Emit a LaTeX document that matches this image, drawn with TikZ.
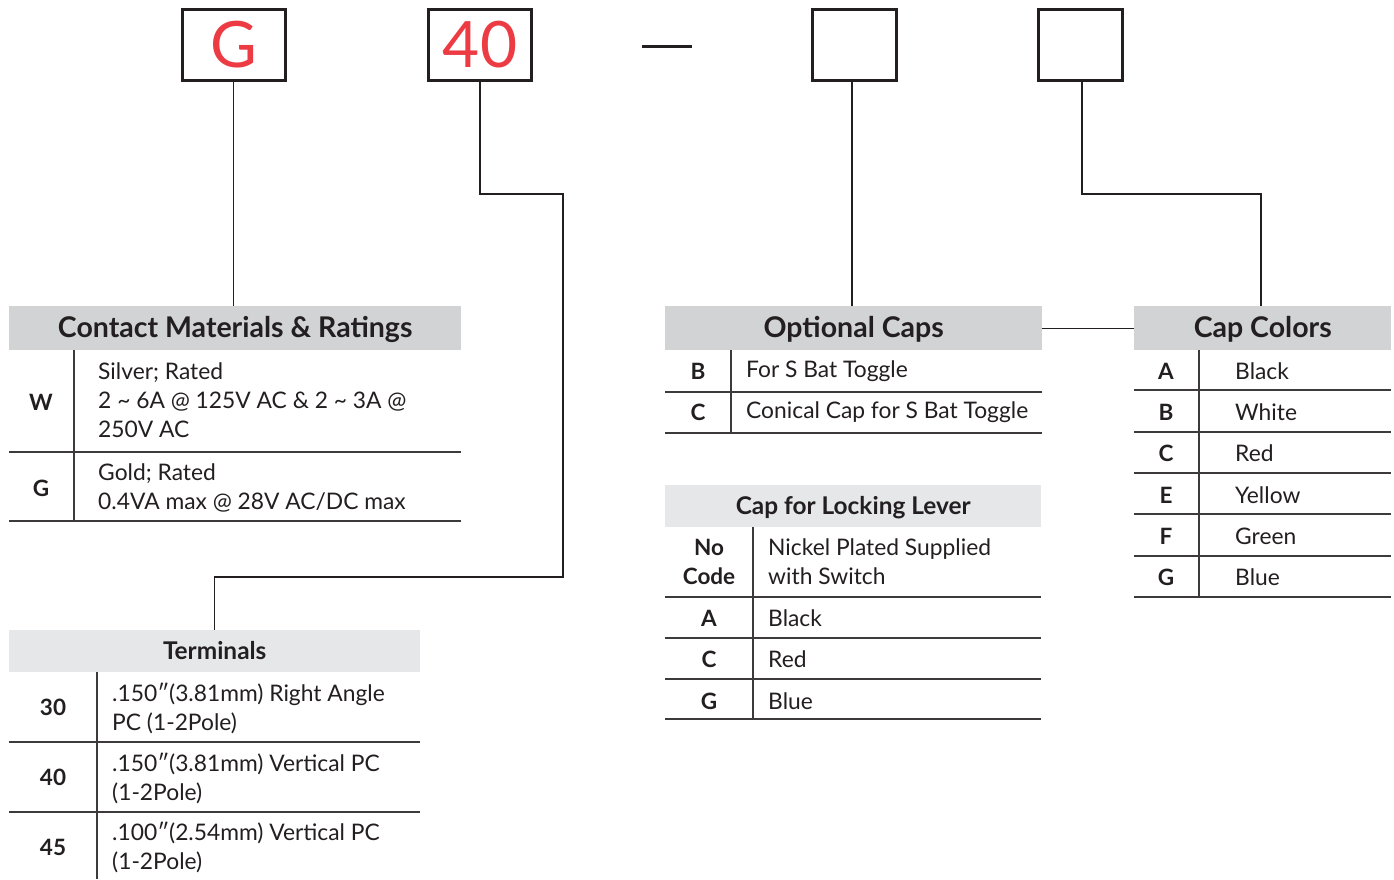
\documentclass[tikz,border=0pt]{standalone}
\usepackage{fontspec}
\setmainfont{Lato}
\definecolor{ink}{HTML}{231F20}
\definecolor{hdrA}{HTML}{D1D3D4}
\definecolor{hdrB}{HTML}{E6E7E8}
\definecolor{codered}{HTML}{EC3B43}
\definecolor{rulec}{HTML}{3C3A3B}
\begin{document}
\begin{tikzpicture}[x=1pt,y=-1pt,
  codebox/.style={draw=ink,line width=3pt,minimum width=103,minimum height=71,inner sep=0,
     text=codered,font=\fontsize{64}{64}\selectfont},
  hdrdark/.style={fill=hdrA,inner sep=0,anchor=north west,text=ink,text height=19pt,text depth=0pt,
     font=\fontsize{28.5}{30}\bfseries\selectfont},
  hdrlight/.style={fill=hdrB,inner sep=0,anchor=north west,text=ink,text height=17pt,text depth=0pt,
     font=\fontsize{24.4}{26}\bfseries\selectfont},
  code/.style={inner sep=0,text=ink,align=center,font=\fontsize{22.5}{29}\bfseries\selectfont},
  desc/.style={inner sep=0,anchor=west,text=ink,align=left,font=\fontsize{22.8}{29}\selectfont},
  rule/.style={draw=rulec,line width=1.4pt},
  conn/.style={draw=ink,line width=1.2pt}]
\useasboundingbox (0,0) rectangle (1394,879);
\fill[white] (0,0) rectangle (1394,879);

% top code boxes
\node[codebox] (bG) at (233.5,44.5) {G};
\node[codebox] (b40) at (480,44.5) {40};
\node[codebox,minimum width=84] (b3) at (854,44.5) {};
\node[codebox,minimum width=84] (b4) at (1080,44.5) {};
\draw[draw=ink,line width=3pt] (642,46) -- (692,46);

% Contact Materials & Ratings
\node[hdrdark,minimum width=452,minimum height=44] (hCM) at (9,306) {Contact Materials \& Ratings};
\draw[rule] (74,350) -- (74,521);
\draw[rule] (9,452) -- (461,452);
\draw[rule] (9,521) -- (461,521);
\node[code] (cW) at (41,402) {W};
\node[desc] (dW) at (98,400) {Silver; Rated\\2 \char`~\ 6A @ 125V AC \& 2 \char`~\ 3A @\\250V AC};
\node[code] (cG) at (41,488) {G};
\node[desc] (dG) at (98,488) {Gold; Rated\\0.4VA max @ 28V AC/DC max};

% Terminals
\node[hdrlight,minimum width=411,minimum height=42] (hT) at (9,630) {Terminals};
\draw[rule] (97,672) -- (97,879);
\draw[rule] (9,742) -- (420,742);
\draw[rule] (9,812) -- (420,812);
\node[code] (c30) at (53,707) {30};
\node[desc] (d30) at (112,708) {.150″(3.81mm) Right Angle\\PC (1-2Pole)};
\node[code] (c40) at (53,777) {40};
\node[desc] (d40) at (112,778) {.150″(3.81mm) Vertical PC\\(1-2Pole)};
\node[code] (c45) at (53,847) {45};
\node[desc] (d45) at (112,847) {.100″(2.54mm) Vertical PC\\(1-2Pole)};

% Optional Caps
\node[hdrdark,minimum width=377,minimum height=44] (hOC) at (665,306) {Optional Caps};
\draw[rule] (731,350) -- (731,433);
\draw[rule] (665,392) -- (1042,392);
\draw[rule] (665,433) -- (1042,433);
\node[code] (cOB) at (698,371) {B};
\node[desc] (dOB) at (746,371) {For S Bat Toggle};
\node[code] (cOC) at (698,412) {C};
\node[desc] (dOC) at (746,412) {Conical Cap for S Bat Toggle};

% Cap for Locking Lever
\node[hdrlight,minimum width=376,minimum height=42] (hCL) at (665,485) {Cap for Locking Lever};
\draw[rule] (753,527) -- (753,719);
\draw[rule] (665,597) -- (1041,597);
\draw[rule] (665,638) -- (1041,638);
\draw[rule] (665,679) -- (1041,679);
\draw[rule] (665,719) -- (1041,719);
\node[code] (cLN) at (709,562) {No\\Code};
\node[desc] (dLN) at (768,562) {Nickel Plated Supplied\\with Switch};
\node[code] (cLA) at (709,618) {A};
\node[desc] (dLA) at (768,618) {Black};
\node[code] (cLC) at (709,659) {C};
\node[desc] (dLC) at (768,659) {Red};
\node[code] (cLG) at (709,701) {G};
\node[desc] (dLG) at (768,701) {Blue};

% Cap Colors
\node[hdrdark,minimum width=257,minimum height=44] (hCC) at (1134,306) {Cap Colors};
\draw[rule] (1199,350) -- (1199,597);
\foreach \yy in {390,432,473,514,556,597} \draw[rule] (1134,\yy) -- (1391,\yy);
\node[code] (cCA) at (1166,371) {A};
\node[desc] (dCA) at (1235,371) {Black};
\node[code] (cCB) at (1166,412) {B};
\node[desc] (dCB) at (1235,412) {White};
\node[code] (cCC) at (1166,453) {C};
\node[desc] (dCC) at (1235,453) {Red};
\node[code] (cCE) at (1166,495) {E};
\node[desc] (dCE) at (1235,495) {Yellow};
\node[code] (cCF) at (1166,536) {F};
\node[desc] (dCF) at (1235,536) {Green};
\node[code] (cCG) at (1166,577) {G};
\node[desc] (dCG) at (1235,577) {Blue};

% connectors
\coordinate (k1) at (563,194);
\coordinate (k2) at (563,577);
\coordinate (k3) at (1261,194);
\coordinate (p3) at (852,0);
\coordinate (p4) at (1082,0);
\draw[conn] (bG.south) -- (bG.south |- hCM.north);
\draw[conn] (b40.south) |- (k1) -- (k2) -| (hT.north);
\draw[conn] (b3.south -| p3) -- (p3 |- hOC.north);
\draw[conn] (b4.south -| p4) |- (k3) -- (k3 |- hCC.north);
\draw[conn] (hOC.east) -- (hCC.west);
\end{tikzpicture}
\end{document}
